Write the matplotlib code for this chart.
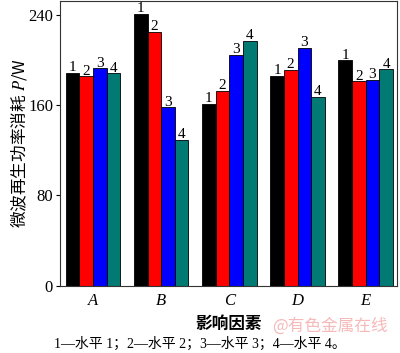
import numpy as np
import matplotlib.pyplot as plt

plt.rcParams["font.family"] = ["Liberation Serif", "Noto Sans CJK SC"]
plt.rcParams["mathtext.fontset"] = "stix"

# 影响因素と各水平の値
factors = ["A", "B", "C", "D", "E"]
levels = ["1", "2", "3", "4"]
level1 = [188.5, 240.5, 161, 186, 199.5]
level2 = [185.5, 225, 172.5, 191, 181]
level3 = [192.5, 158, 204.5, 210.5, 182.5]
level4 = [188, 129, 217, 167, 191.5]
colors = ["#000000", "#ff0000", "#0000ff", "#007a73"]

fig = plt.figure(figsize=(4.0, 3.53), dpi=100)
ax = fig.add_axes([0.15, 0.19, 0.8425, 0.807])

x = np.arange(len(factors))
w = 0.2
for i, vals in enumerate([level1, level2, level3, level4]):
    pos = x + (i - 1.5) * w
    ax.bar(pos, vals, width=w, color=colors[i], edgecolor="black", linewidth=0.6)
    for p, v in zip(pos, vals):
        ax.text(p, v + 1.5, levels[i], ha="center", va="baseline", fontsize=11)

ax.set_xlim(-0.485, 4.46)
ax.set_ylim(0, 252)
ax.set_yticks([0, 80, 160, 240])
ax.tick_params(axis="y", labelsize=12, direction="out", length=3, pad=2)
ax.set_xticks(x)
ax.set_xticklabels(factors, fontstyle="italic", fontsize=12)
ax.tick_params(axis="x", length=0, pad=5)
for s in ax.spines.values():
    s.set_linewidth(0.8)
    s.set_color("#333333")

ax.set_ylabel("微波再生功率消耗 $P$/W", fontsize=12, labelpad=-1,
              family=["Noto Sans CJK SC"])
ax.set_xlabel("影响因素", fontsize=12, fontweight="bold", labelpad=4,
              family=["Noto Sans CJK SC"])

fig.text(0.5, 0.026, "1—水平 1；2—水平 2；3—水平 3；4—水平 4。", ha="center", va="center", fontsize=10)
fig.text(0.825, 0.075, "@有色金属在线", ha="center", va="center", fontsize=12,
         color="#f08080", alpha=0.55, family=["Noto Sans CJK SC"])

fig.savefig("out.png", dpi=100)
